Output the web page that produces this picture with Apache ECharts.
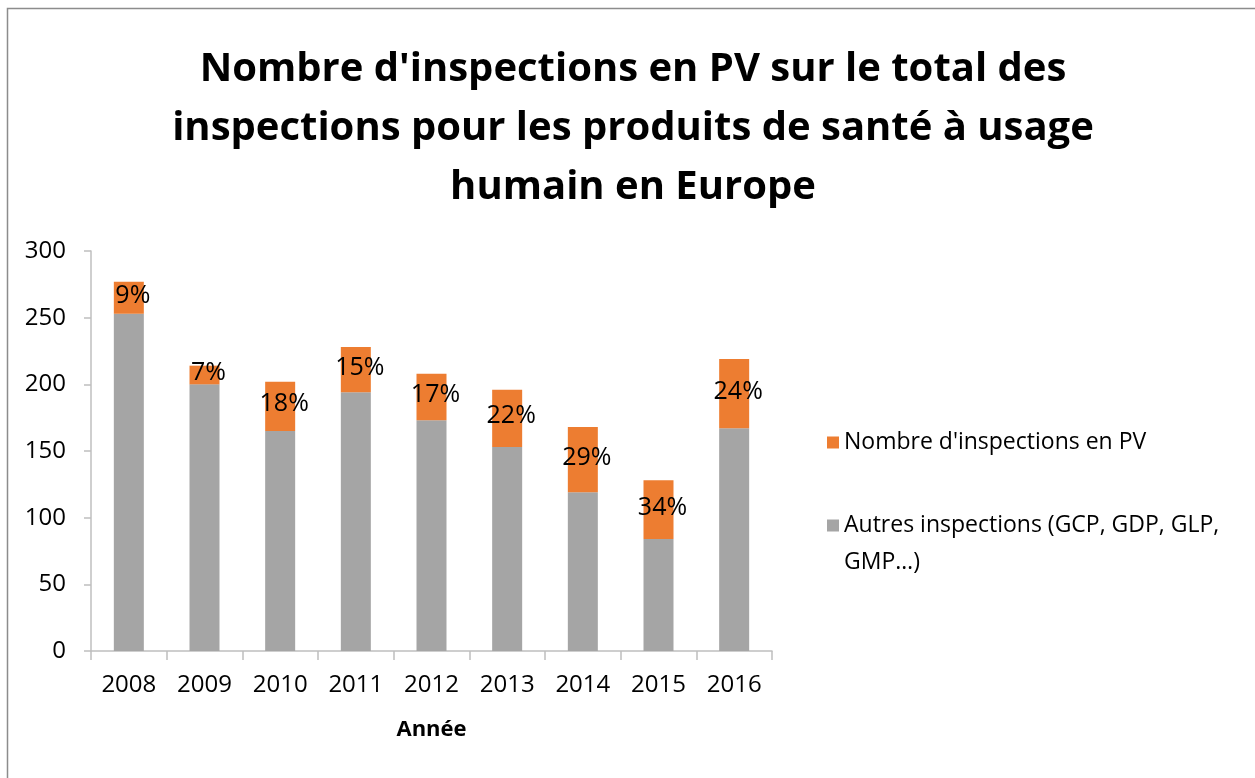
<!DOCTYPE html>
<html>
<head>
<meta charset="utf-8">
<script src="https://cdn.jsdelivr.net/npm/echarts@6/dist/echarts.min.js"></script>
<style>
  html, body { margin: 0; padding: 0; background: #fff; }
  #chart { width: 1255px; height: 778px; }
</style>
</head>
<body>
<div id="chart"></div>
<script>
// data
const years = ['2008', '2009', '2010', '2011', '2012', '2013', '2014', '2015', '2016'];
const autres = [253, 200, 165, 194, 173, 153, 119, 84, 167];
const pv = [24, 14, 37, 34, 35, 43, 49, 44, 52];
const pctLabels = ['9%', '7%', '18%', '15%', '17%', '22%', '29%', '34%', '24%'];
const yTicks = [0, 50, 100, 150, 200, 250, 300];

const nameAutres = 'Autres inspections (GCP, GDP, GLP, GMP…)';
const namePV = "Nombre d'inspections en PV";

const font = '"Open Sans", "Noto Sans", sans-serif';

let chart = echarts.init(document.getElementById('chart'));
let option = {
  backgroundColor: '#fff',
  textStyle: { fontFamily: font },
  title: {
    text: "Nombre d'inspections en PV sur le total des\ninspections pour les produits de santé à usage\nhumain en Europe",
    left: 628,
    top: 35,
    textAlign: 'center',
    textStyle: {
      fontFamily: font,
      fontSize: 40,
      fontWeight: 'bold',
      color: '#000',
      lineHeight: 59
    }
  },
  graphic: [{
    type: 'rect',
    shape: { x: 7.5, y: 8.5, width: 1260, height: 790 },
    style: { fill: 'none', stroke: '#8c8c8c', lineWidth: 1.5 },
    silent: true
  }],
  legend: [
    {
      data: [namePV],
      left: 822,
      top: 426,
      orient: 'vertical',
      itemWidth: 12,
      itemHeight: 12,
      icon: 'rect',
      textStyle: { fontFamily: font, fontSize: 23, color: '#000' }
    },
    {
      data: [nameAutres],
      left: 822,
      top: 465,
      orient: 'vertical',
      itemWidth: 12,
      itemHeight: 12,
      icon: 'rect',
      // empty first line keeps the icon level with the first text line
      formatter: function () {
        return '\nAutres inspections (GCP, GDP, GLP,\nGMP…)';
      },
      textStyle: { fontFamily: font, fontSize: 23, color: '#000', lineHeight: 37 }
    }
  ],
  grid: { left: 91, right: 483, top: 251, bottom: 127 },
  xAxis: {
    type: 'category',
    data: years,
    name: 'Année',
    nameLocation: 'middle',
    nameGap: 68,
    nameTextStyle: { fontFamily: font, fontSize: 22, fontWeight: 'bold', color: '#000' },
    axisLine: { lineStyle: { color: '#bfbfbf', width: 1.5 } },
    axisTick: { show: true, length: 9, lineStyle: { color: '#bfbfbf', width: 1.5 } },
    axisLabel: { fontFamily: font, fontSize: 24, color: '#000', margin: 22 }
  },
  yAxis: {
    type: 'value',
    min: yTicks[0],
    max: yTicks[yTicks.length - 1],
    interval: 50,
    axisLine: { show: true, lineStyle: { color: '#bfbfbf', width: 1.5 } },
    axisTick: { show: true, length: 7, lineStyle: { color: '#bfbfbf', width: 1.5 } },
    splitLine: { show: false },
    axisLabel: { fontFamily: font, fontSize: 24, color: '#000', margin: 25 }
  },
  series: [
    {
      name: nameAutres,
      type: 'bar',
      stack: 'total',
      barWidth: 30,
      data: autres,
      itemStyle: { color: '#a5a5a5' }
    },
    {
      name: namePV,
      type: 'bar',
      stack: 'total',
      barWidth: 30,
      data: pv,
      itemStyle: { color: '#ed7d31' },
      label: {
        show: true,
        position: 'inside',
        offset: [4, -2],
        fontFamily: font,
        fontSize: 25,
        color: '#000',
        formatter: function (params) {
          return pctLabels[params.dataIndex];
        }
      }
    }
  ]
};
chart.setOption(option);
</script>
</body>
</html>
